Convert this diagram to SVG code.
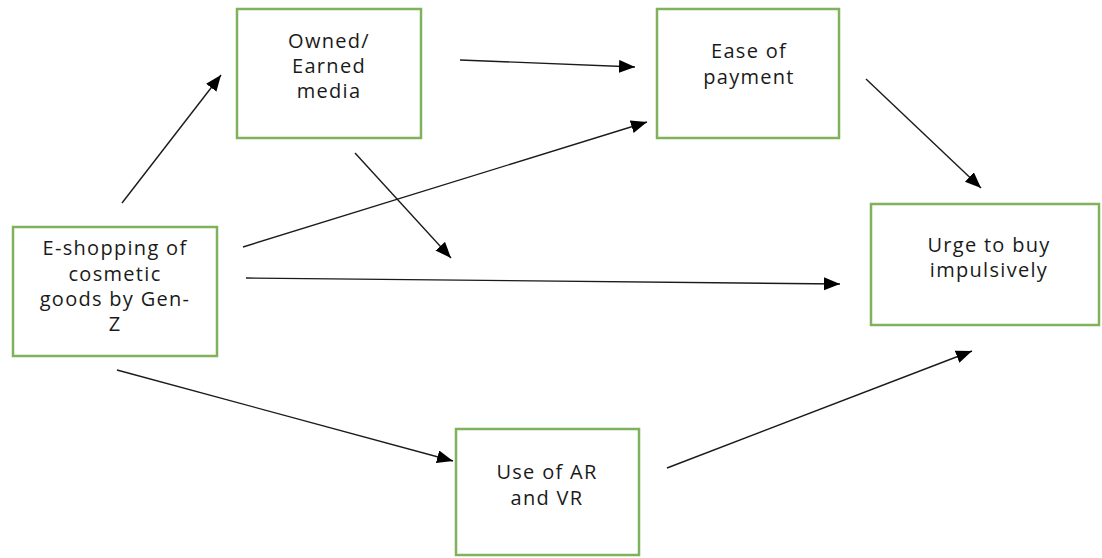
<svg xmlns="http://www.w3.org/2000/svg" width="1102" height="558" viewBox="0 0 1102 558">
<style>
.box{fill:#ffffff;stroke:#7fb25a;stroke-width:2.5}
.lbl{font-family:"Open Sans","Liberation Sans",sans-serif;font-size:20px;fill:#1a1a1a;text-anchor:middle;letter-spacing:1.3px}
.con{stroke:#1a1a1a;stroke-width:1.4;fill:none;marker-end:url(#ah)}
</style>
<defs>
<marker id="ah" markerUnits="userSpaceOnUse" markerWidth="18" markerHeight="14" refX="16" refY="6.5" orient="auto">
<path d="M0,0 L16,6.5 L0,13 z" fill="#000"/>
</marker>
</defs>
<rect width="1102" height="558" fill="#ffffff"/>
<g id="connectors">
<line class="con" x1="122" y1="203" x2="221" y2="75"/>
<line class="con" x1="460" y1="60" x2="635" y2="67"/>
<line class="con" x1="243" y1="247" x2="647" y2="122"/>
<line class="con" x1="355" y1="153" x2="451" y2="258"/>
<line class="con" x1="246" y1="278" x2="840" y2="284"/>
<line class="con" x1="866" y1="79" x2="981" y2="188"/>
<line class="con" x1="117" y1="370" x2="453" y2="461"/>
<line class="con" x1="667" y1="468" x2="972" y2="351"/>
</g>
<g id="node-eshopping">
<rect class="box" x="13" y="227" width="204" height="129"/>
<text class="lbl" x="115" y="255">E-shopping of</text>
<text class="lbl" x="115" y="280.5">cosmetic</text>
<text class="lbl" x="115" y="306">goods by Gen-</text>
<text class="lbl" x="115" y="331">Z</text>
</g>
<g id="node-owned">
<rect class="box" x="237" y="9" width="184" height="129"/>
<text class="lbl" x="329" y="48">Owned/</text>
<text class="lbl" x="329" y="73">Earned</text>
<text class="lbl" x="329" y="98">media</text>
</g>
<g id="node-ease">
<rect class="box" x="657" y="9" width="182" height="129"/>
<text class="lbl" x="749" y="58">Ease of</text>
<text class="lbl" x="749" y="84">payment</text>
</g>
<g id="node-urge">
<rect class="box" x="871" y="204" width="228" height="121"/>
<text class="lbl" x="989" y="252">Urge to buy</text>
<text class="lbl" x="989" y="277">impulsively</text>
</g>
<g id="node-arvr">
<rect class="box" x="456" y="429" width="183" height="126"/>
<text class="lbl" x="547" y="479">Use of AR</text>
<text class="lbl" x="547" y="505">and VR</text>
</g>
</svg>
